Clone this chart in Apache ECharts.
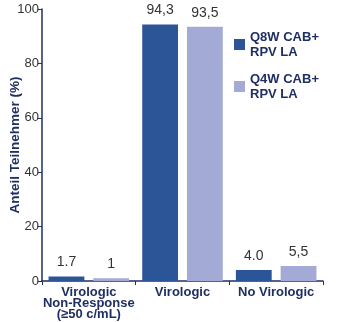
<!DOCTYPE html>
<html><head><meta charset="utf-8">
<script src="https://cdn.jsdelivr.net/npm/echarts@6/dist/echarts.min.js"></script>
<style>html,body{margin:0;padding:0;background:#fff}#c{width:340px;height:322px}</style>
</head><body><div id="c"></div>
<script>
var categories = ['Virologic\nNon-Response\n(≥50 c/mL)', 'Virologic', 'No Virologic'];
var seriesNames = ['Q8W CAB+\nRPV LA', 'Q4W CAB+\nRPV LA'];
var q8wValues = [1.7, 94.3, 4.0];
var q4wValues = [1.0, 93.5, 5.5];
var q8wLabels = ['1.7', '94,3', '4.0'];
var q4wLabels = ['1', '93,5', '5,5'];
var yTicks = [0, 20, 40, 60, 80, 100];

var navy = '#1f2f63';
var ff = 'Liberation Sans, Arial, sans-serif';
var chart = echarts.init(document.getElementById('c'));
function mk(name, vals, labels, color) {
  return {
    name: name, type: 'bar', data: vals,
    barGap: '25%', barCategoryGap: '14%',
    itemStyle: { color: color },
    label: { show: true, position: 'top', distance: 7, fontSize: 14, color: '#333',
      fontFamily: ff,
      formatter: function (p) { return labels[p.dataIndex]; } }
  };
}
chart.setOption({
  animation: false,
  grid: { left: 42, right: 17, top: 9, bottom: 41, containLabel: false, outerBoundsMode: 'none' },
  legend: {
    orient: 'vertical', left: 233, top: 20, itemWidth: 11, itemHeight: 11, itemGap: -3,
    icon: 'rect', backgroundColor: 'transparent', padding: [2, 2, 2, 1],
    textStyle: { fontSize: 13, fontWeight: 'bold', color: navy, lineHeight: 15,
      fontFamily: ff, padding: [15, 0, 0, 0] },
    data: seriesNames
  },
  xAxis: {
    type: 'category', data: categories,
    axisLine: { lineStyle: { color: navy, width: 1.5 } },
    axisTick: { show: true, length: 4, lineStyle: { color: navy } },
    axisLabel: { fontSize: 13, fontWeight: 'bold', color: navy, lineHeight: 11, margin: 6,
      fontFamily: ff, interval: 0 }
  },
  yAxis: {
    type: 'value', min: 0, max: 100, interval: 20,
    name: 'Anteil Teilnehmer (%)', nameLocation: 'middle', nameGap: 20, nameMoveOverlap: false,
    nameTextStyle: { fontSize: 13.5, fontWeight: 'bold', color: navy, fontFamily: ff },
    axisLine: { show: true, lineStyle: { color: navy, width: 1.5 } },
    axisTick: { show: true, length: 4, lineStyle: { color: navy } },
    splitLine: { show: false },
    axisLabel: { fontSize: 13, color: '#333', margin: 3, fontFamily: ff,
      formatter: function (v) { return yTicks.indexOf(v) >= 0 ? String(v) : ''; } }
  },
  series: [
    mk(seriesNames[0], q8wValues, q8wLabels, '#2c5597'),
    mk(seriesNames[1], q4wValues, q4wLabels, '#a3aad6')
  ]
});
</script></body></html>
